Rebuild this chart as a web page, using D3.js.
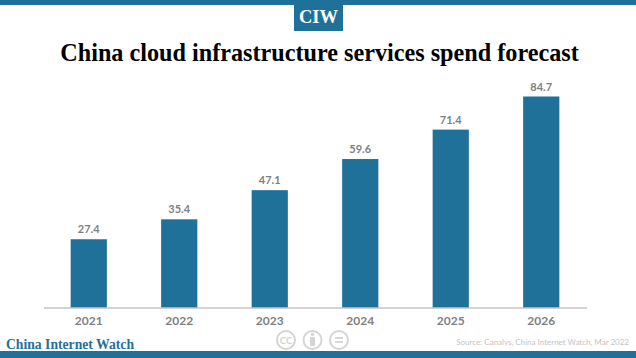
<!DOCTYPE html>
<html>
<head>
<meta charset="utf-8">
<script src="https://cdn.jsdelivr.net/npm/d3@7"></script>
<style>
  html, body { margin: 0; padding: 0; background: #fff; }
  svg { display: block; }
</style>
</head>
<body>
<script>
const years = ['2021', '2022', '2023', '2024', '2025', '2026'];
const spend = [27.4, 35.4, 47.1, 59.6, 71.4, 84.7];

const titleText = 'China cloud infrastructure services spend forecast';
const sourceText = 'Source: Canalys, China Internet Watch, Mar 2022';
const brandText = 'China Internet Watch';

const width = 636;
const height = 358;
const blue = '#1f7199';
const serif = '"Liberation Serif", "DejaVu Serif", serif';

const svg = d3.select('body').append('svg')
  .attr('width', width)
  .attr('height', height)
  .attr('viewBox', [0, 0, width, height]);

// top and bottom bands, logo tab
svg.append('rect').attr('width', width).attr('height', 5).attr('fill', blue);
svg.append('rect').attr('y', 351).attr('width', width).attr('height', 7).attr('fill', blue);
svg.append('rect').attr('x', 294).attr('y', 0).attr('width', 49).attr('height', 31).attr('fill', blue);
svg.append('text')
  .attr('x', 318.5).attr('y', 23)
  .attr('text-anchor', 'middle')
  .attr('font-family', serif).attr('font-weight', 700).attr('font-size', 18.5)
  .attr('fill', '#fff')
  .text('CIW');

svg.append('text')
  .attr('x', 319.5).attr('y', 60.5)
  .attr('text-anchor', 'middle')
  .attr('font-family', serif).attr('font-weight', 700).attr('font-size', 24.2)
  .attr('fill', '#000')
  .text(titleText);

// chart
const xScale = d3.scaleBand(years, [43.5, 586.5]).paddingInner(0.6).paddingOuter(0.3);
const yScale = d3.scaleLinear([0, 84.7], [307.5, 96.5]);

svg.append('g')
  .attr('fill', blue)
  .selectAll('rect')
  .data(years)
  .join('rect')
  .attr('x', d => xScale(d))
  .attr('width', xScale.bandwidth())
  .attr('y', (d, i) => yScale(spend[i]))
  .attr('height', (d, i) => yScale(0) - yScale(spend[i]));

svg.append('g')
  .attr('font-family', 'Lato, sans-serif').attr('font-weight', 700).attr('font-size', 11)
  .attr('fill', '#808080').attr('text-anchor', 'middle')
  .selectAll('text')
  .data(years)
  .join('text')
  .attr('x', d => xScale(d) + xScale.bandwidth() / 2)
  .attr('y', (d, i) => yScale(spend[i]) - 6)
  .text((d, i) => spend[i].toFixed(1));

const xAxis = d3.axisBottom(xScale).tickSize(0).tickPadding(9);
svg.append('g')
  .attr('transform', `translate(0,${yScale(0)})`)
  .call(xAxis)
  .call(g => g.select('.domain').attr('stroke', '#a6a6a6').attr('stroke-width', 1))
  .call(g => g.selectAll('.tick text')
    .attr('font-family', 'Lato, sans-serif').attr('font-weight', 700).attr('font-size', 12)
    .attr('fill', '#808080'));

// footer
svg.append('text')
  .attr('x', 6).attr('y', 349)
  .attr('font-family', serif).attr('font-weight', 700).attr('font-size', 14.5)
  .attr('textLength', 128).attr('lengthAdjust', 'spacingAndGlyphs')
  .attr('fill', blue)
  .text(brandText);

svg.append('text')
  .attr('x', 629).attr('y', 345)
  .attr('text-anchor', 'end')
  .attr('font-family', 'Lato, sans-serif').attr('font-size', 8)
  .attr('fill', '#c4c4c4')
  .text(sourceText);

// licence badges
const badges = svg.append('g').attr('fill', 'none').attr('stroke', '#d4d4d4').attr('stroke-width', 2);
[286, 312.5, 339].forEach(cx => badges.append('circle').attr('cx', cx).attr('cy', 340).attr('r', 9));
svg.append('text')
  .attr('x', 286).attr('y', 343.5)
  .attr('text-anchor', 'middle')
  .attr('font-family', 'Lato, sans-serif').attr('font-weight', 700).attr('font-size', 9.5)
  .attr('fill', '#d4d4d4')
  .text('CC');
const person = svg.append('g').attr('fill', '#d4d4d4');
person.append('circle').attr('cx', 312.5).attr('cy', 334.5).attr('r', 1.8);
person.append('rect').attr('x', 310).attr('y', 337).attr('width', 5).attr('height', 9).attr('rx', 1);
const equals = svg.append('g').attr('fill', '#d4d4d4');
equals.append('rect').attr('x', 335).attr('y', 337).attr('width', 8).attr('height', 1.8);
equals.append('rect').attr('x', 335).attr('y', 341).attr('width', 8).attr('height', 1.8);
</script>
</body>
</html>
